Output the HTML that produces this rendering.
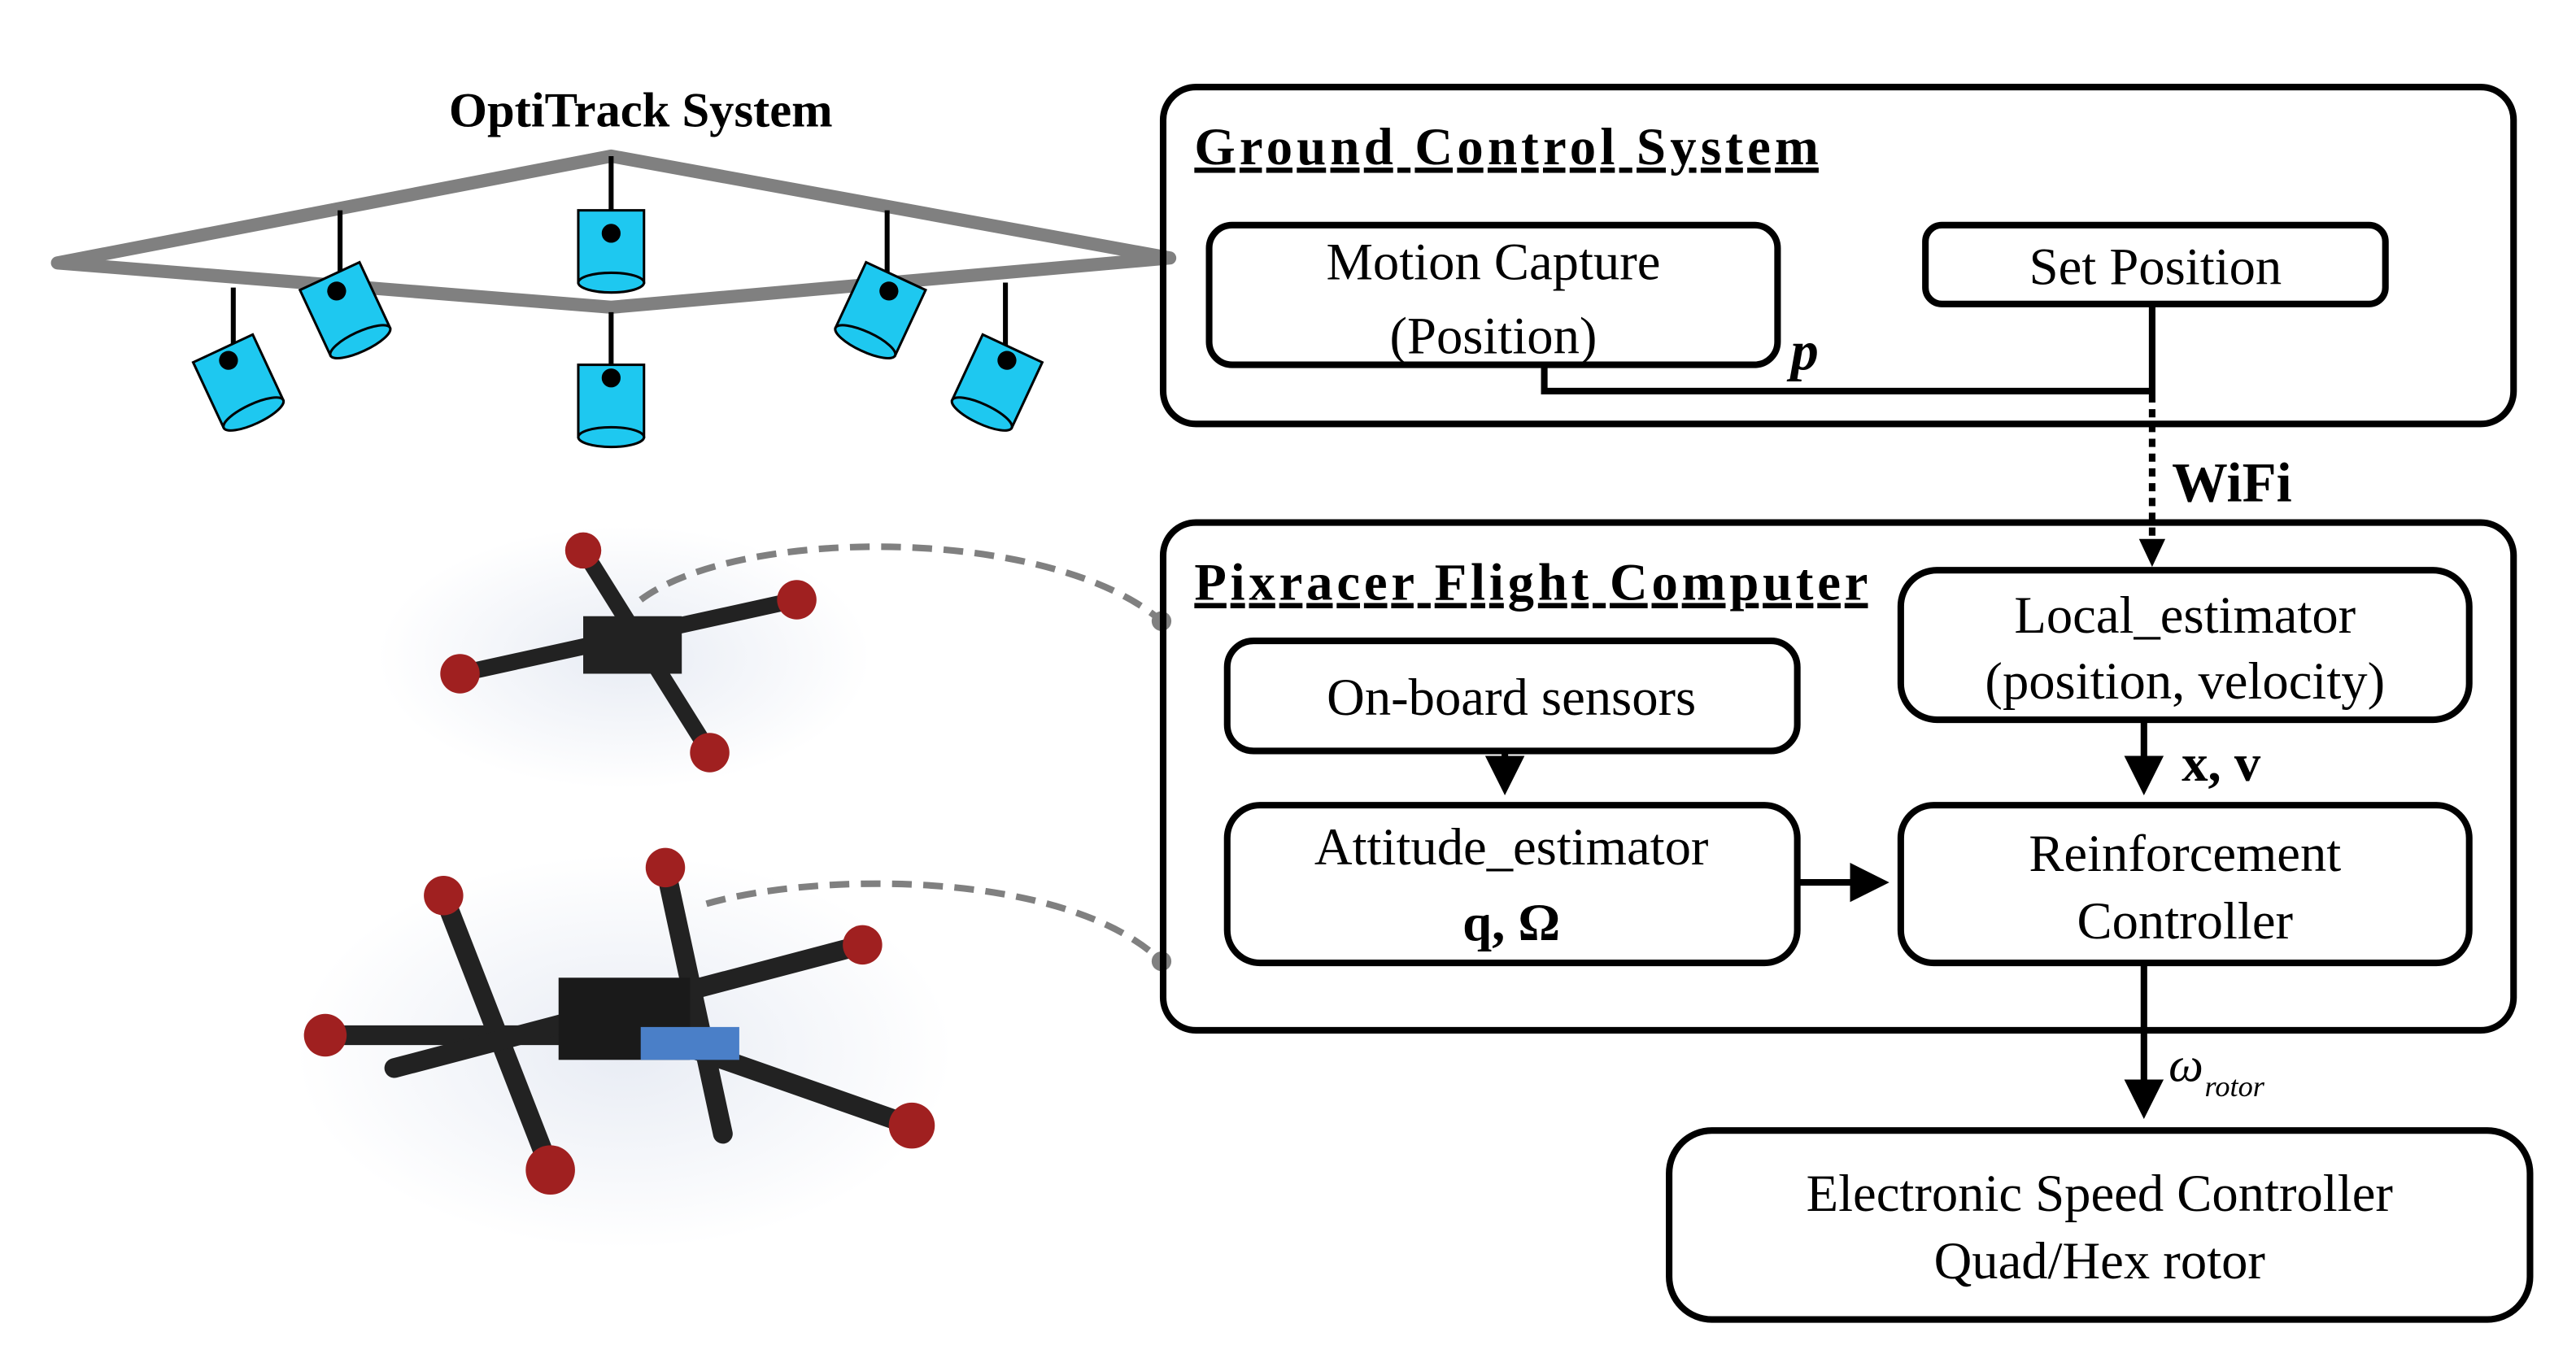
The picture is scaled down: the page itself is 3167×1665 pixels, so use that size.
<!DOCTYPE html>
<html><head><meta charset="utf-8"><style>
html,body{margin:0;padding:0;background:#fff;}
svg{display:block;}
text{font-family:"Liberation Serif",serif;}
</style></head><body>
<svg width="3167" height="1665" viewBox="0 0 1568 824" preserveAspectRatio="none" xmlns="http://www.w3.org/2000/svg">
<defs>
<marker id="ah" markerWidth="6" markerHeight="6" refX="5" refY="3" orient="auto" markerUnits="strokeWidth">
<path d="M0,0 L6,3 L0,6 z" fill="#000"/></marker>
<radialGradient id="glow" cx="50%" cy="50%" r="50%"><stop offset="0" stop-color="#e8ecf4"/><stop offset="1" stop-color="#fff"/></radialGradient>
</defs>
<text x="390" y="77" font-size="30" font-weight="bold" text-anchor="middle">OptiTrack System</text>
<g stroke="#808080" stroke-width="8" fill="none" stroke-linejoin="round">
<path d="M35,160 L372,95 L712,157 L372,187 Z"/>
</g>
<g stroke="#000" stroke-width="3">
<line x1="372" y1="95" x2="372" y2="150"/>
<line x1="207" y1="128" x2="207" y2="180"/>
<line x1="540" y1="128" x2="540" y2="178"/>
<line x1="142" y1="175" x2="142" y2="220"/>
<line x1="612" y1="172" x2="612" y2="220"/>
<line x1="372" y1="190" x2="372" y2="235"/>
</g>
<g fill="#1ec8f0" stroke="#000" stroke-width="1.5">
<g><rect x="352" y="128" width="40" height="44"/><ellipse cx="372" cy="172" rx="20" ry="6"/><circle cx="372" cy="142" r="5" fill="#000"/></g>
<g><rect x="352" y="222" width="40" height="44"/><ellipse cx="372" cy="266" rx="20" ry="6"/><circle cx="372" cy="230" r="5" fill="#000"/></g>
<g transform="rotate(-25 210 188)"><rect x="190" y="166" width="40" height="44"/><ellipse cx="210" cy="210" rx="20" ry="6"/><circle cx="210" cy="176" r="5" fill="#000"/></g>
<g transform="rotate(-25 145 232)"><rect x="125" y="210" width="40" height="44"/><ellipse cx="145" cy="254" rx="20" ry="6"/><circle cx="145" cy="218" r="5" fill="#000"/></g>
<g transform="rotate(25 536 188)"><rect x="516" y="166" width="40" height="44"/><ellipse cx="536" cy="210" rx="20" ry="6"/><circle cx="536" cy="176" r="5" fill="#000"/></g>
<g transform="rotate(25 607 232)"><rect x="587" y="210" width="40" height="44"/><ellipse cx="607" cy="254" rx="20" ry="6"/><circle cx="607" cy="218" r="5" fill="#000"/></g>
</g>
<ellipse cx="380" cy="400" rx="150" ry="80" fill="url(#glow)"/>
<g stroke="#222" stroke-width="10" stroke-linecap="round">
<line x1="280" y1="410" x2="485" y2="365"/>
<line x1="355" y1="335" x2="432" y2="458"/>
</g>
<rect x="355" y="375" width="60" height="35" fill="#222"/>
<g fill="#a02020"><circle cx="280" cy="410" r="12"/><circle cx="485" cy="365" r="12"/><circle cx="355" cy="335" r="11"/><circle cx="432" cy="458" r="12"/></g>
<ellipse cx="380" cy="640" rx="200" ry="120" fill="url(#glow)"/>
<g stroke="#222" stroke-width="12" stroke-linecap="round">
<line x1="198" y1="630" x2="398" y2="630"/>
<line x1="398" y1="630" x2="555" y2="685"/>
<line x1="270" y1="545" x2="335" y2="712"/>
<line x1="405" y1="528" x2="440" y2="690"/>
<line x1="525" y1="575" x2="240" y2="650"/>
</g>
<rect x="340" y="595" width="80" height="50" fill="#1a1a1a"/>
<rect x="390" y="625" width="60" height="20" fill="#4a7fc8"/>
<g fill="#a02020"><circle cx="198" cy="630" r="13"/><circle cx="555" cy="685" r="14"/><circle cx="270" cy="545" r="12"/><circle cx="405" cy="528" r="12"/><circle cx="525" cy="575" r="12"/><circle cx="335" cy="712" r="15"/></g>
<g stroke="#808080" stroke-width="4" fill="none" stroke-dasharray="12,7">
<path d="M390,365 C450,320 640,320 707,378"/>
<path d="M430,550 C500,530 650,530 707,585"/>
</g>
<circle cx="707" cy="378" r="6" fill="#808080"/>
<circle cx="707" cy="585" r="6" fill="#808080"/>
<g fill="none" stroke="#000" stroke-width="4">
<rect x="708" y="53" width="822" height="205" rx="20"/>
<rect x="736" y="137" width="346" height="85" rx="14"/>
<rect x="1172" y="137" width="280" height="48" rx="10"/>
<rect x="708" y="318" width="822" height="309" rx="20"/>
<rect x="1157" y="347" width="346" height="91" rx="22"/>
<rect x="747" y="390" width="347" height="67" rx="16"/>
<rect x="747" y="490" width="347" height="96" rx="20"/>
<rect x="1157" y="490" width="346" height="96" rx="20"/>
<rect x="1016" y="688" width="524" height="115" rx="26"/>
<polyline points="940,222 940,238 1310,238"/>
<line x1="1310" y1="185" x2="1310" y2="240"/>
</g>
<line x1="1310" y1="240" x2="1310" y2="330" stroke="#000" stroke-width="4" stroke-dasharray="5,4"/>
<path d="M1302,328 L1318,328 L1310,345 Z"/>
<g stroke="#000" stroke-width="4" marker-end="url(#ah)">
<line x1="916" y1="457" x2="916" y2="480"/>
<line x1="1094" y1="537" x2="1146" y2="537"/>
<line x1="1305" y1="438" x2="1305" y2="480"/>
<line x1="1305" y1="586" x2="1305" y2="677"/>
</g>
<text x="727" y="100" font-size="32" font-weight="bold" text-decoration="underline" textLength="380" lengthAdjust="spacing">Ground  Control  System</text>
<text x="727" y="365" font-size="32" font-weight="bold" text-decoration="underline" textLength="410" lengthAdjust="spacing">Pixracer  Flight  Computer</text>
<g font-size="32" text-anchor="middle">
<text x="909" y="170">Motion  Capture</text>
<text x="909" y="215">(Position)</text>
<text x="1312" y="173">Set Position</text>
<text x="1330" y="385">Local_estimator</text>
<text x="1330" y="425">(position, velocity)</text>
<text x="920" y="435">On-board sensors</text>
<text x="920" y="526">Attitude_estimator</text>
<text x="920" y="572" font-weight="bold">q, Ω</text>
<text x="1330" y="530">Reinforcement</text>
<text x="1330" y="571">Controller</text>
<text x="1278" y="737">Electronic Speed Controller</text>
<text x="1278" y="778">Quad/Hex rotor</text>
</g>
<text x="1090" y="225" font-size="34" font-style="italic" font-weight="bold">p</text>
<text x="1322" y="305" font-size="34" font-weight="bold">WiFi</text>
<text x="1328" y="475" font-size="32" font-weight="bold">x, v</text>
<text x="1320" y="658" font-size="30" font-style="italic">ω</text>
<text x="1342" y="667" font-size="18" font-style="italic">rotor</text>
</svg>
</body></html>
